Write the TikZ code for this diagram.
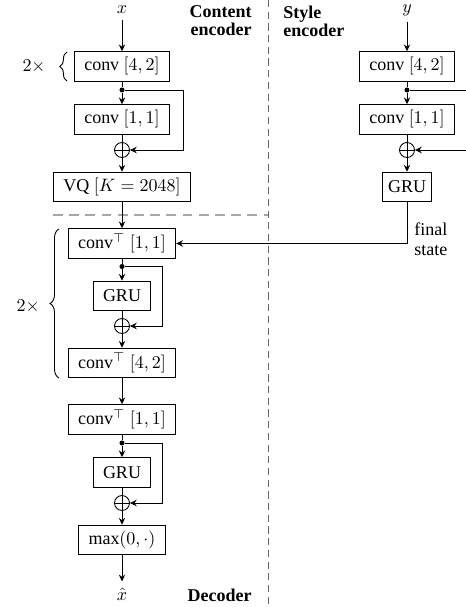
\documentclass[tikz,border=0pt]{standalone}
\usepackage{amsmath,amssymb}
\usepackage{fontspec}
\setmainfont{Liberation Serif}
\usetikzlibrary{arrows.meta,positioning,decorations.pathreplacing}
\tikzstyle{block} = [draw,rectangle,line width=0.5pt,minimum height=16.5pt,inner xsep=5.5pt,inner ysep=0pt]
\tikzstyle{sum} = [draw,circle,line width=0.5pt,inner sep=0,minimum size=8.3pt,path picture={\draw[line width=0.4pt] (path picture bounding box.north) -- (path picture bounding box.south) (path picture bounding box.west) -- (path picture bounding box.east);}]
\tikzstyle{junction} = [fill,circle,inner sep=0,minimum size=2.8pt]
\tikzstyle{flow} = [-{Stealth[length=3.8pt,width=3.6pt,inset=1.3pt]},line width=0.5pt]
\tikzstyle{link} = [-,line width=0.5pt]
\tikzstyle{title} = [font=\bfseries,inner sep=0]
\tikzstyle{repeat} = [decorate,decoration={brace},line width=0.5pt]

\begin{document}
\begin{tikzpicture}[x=0.5556pt,y=-0.5556pt]
  \clip (0,0) rectangle (466,607);
  % separators
  \draw[black!60,dash pattern=on 4pt off 2.5pt,line width=0.4pt] (268,0) -- (268,607);
  \draw[black!35,dash pattern=on 5.5pt off 3.5pt,line width=0.6pt] (53,215) -- (268,215);

  % content encoder
  \node (x) at (122,10) {$x$};
  \node[block] (cc1) at (122,66.5) {conv $[4,2]$};
  \node[junction] (cd1) at (122,90) {};
  \node[block] (cc2) at (122,119.5) {conv $[1,1]$};
  \node[sum] (cs1) at (122,150) {};
  \node[block] (vq) at (122,187) {VQ $[K=2048]$};
  \draw[flow] (x) -- (cc1);
  \draw[link] (cc1) -- (cd1);
  \draw[flow] (cd1) -- (cc2);
  \draw[link] (cc2) -- (cs1);
  \draw[flow] (cd1) -- ++(61,0) |- (cs1.east);
  \draw[flow] (cs1) -- (vq);
  \draw[repeat,decoration={amplitude=4pt}] (67,81) -- (67,52);
  \node (rep1) at (34,66) {$2\times$};

  % decoder
  \node[block] (dt1) at (122,243.5) {conv$^\top$ $[1,1]$};
  \node[junction] (dd1) at (122,266.5) {};
  \node[block] (dg1) at (122,296) {GRU};
  \node[sum] (ds1) at (122,326) {};
  \node[block] (dt2) at (122,363) {conv$^\top$ $[4,2]$};
  \node[block] (dt3) at (122,419.5) {conv$^\top$ $[1,1]$};
  \node[junction] (dd2) at (122,443) {};
  \node[block] (dg2) at (122,472.5) {GRU};
  \node[sum] (ds2) at (122,503) {};
  \node[block] (mx) at (122,540) {$\max(0,\cdot)$};
  \node (xh) at (122,594) {$\hat{x}$};
  \draw[flow] (vq) -- (dt1);
  \draw[link] (dt1) -- (dd1);
  \draw[flow] (dd1) -- (dg1);
  \draw[link] (dg1) -- (ds1);
  \draw[flow] (dd1) -- ++(40,0) |- (ds1.east);
  \draw[flow] (ds1) -- (dt2);
  \draw[flow] (dt2) -- (dt3);
  \draw[link] (dt3) -- (dd2);
  \draw[flow] (dd2) -- (dg2);
  \draw[link] (dg2) -- (ds2);
  \draw[flow] (dd2) -- ++(40,0) |- (ds2.east);
  \draw[flow] (ds2) -- (mx);
  \draw[flow] (mx) -- (xh);
  \draw[repeat,decoration={amplitude=5pt}] (59,378) -- (59,229);
  \node (rep2) at (28,306) {$2\times$};

  % style encoder
  \node (y) at (407,10) {$y$};
  \node[block] (sc1) at (407,66.5) {conv $[4,2]$};
  \node[junction] (sd1) at (407,90) {};
  \node[block] (sc2) at (407,119.5) {conv $[1,1]$};
  \node[sum] (ss1) at (407,150) {};
  \node[block,inner xsep=3pt] (sg) at (407,187) {GRU};
  \draw[flow] (y) -- (sc1);
  \draw[link] (sc1) -- (sd1);
  \draw[flow] (sd1) -- (sc2);
  \draw[link] (sc2) -- (ss1);
  \draw[flow] (sd1) -- ++(73,0) |- (ss1.east);
  \draw[flow] (ss1) -- (sg);
  \draw[flow] (sg.south) |- (dt1.east);
  \node[anchor=west,align=left,inner sep=0] (fs) at (414,239) {final\\[-1pt]state};

  % titles
  \node[title,align=right,anchor=east] (ct) at (252,21) {Content\\[-2pt]encoder};
  \node[title,align=left,anchor=west] (st) at (283,21) {Style\\[-2pt]encoder};
  \node[title,anchor=east] (dc) at (252,595) {Decoder};
\end{tikzpicture}
\end{document}
